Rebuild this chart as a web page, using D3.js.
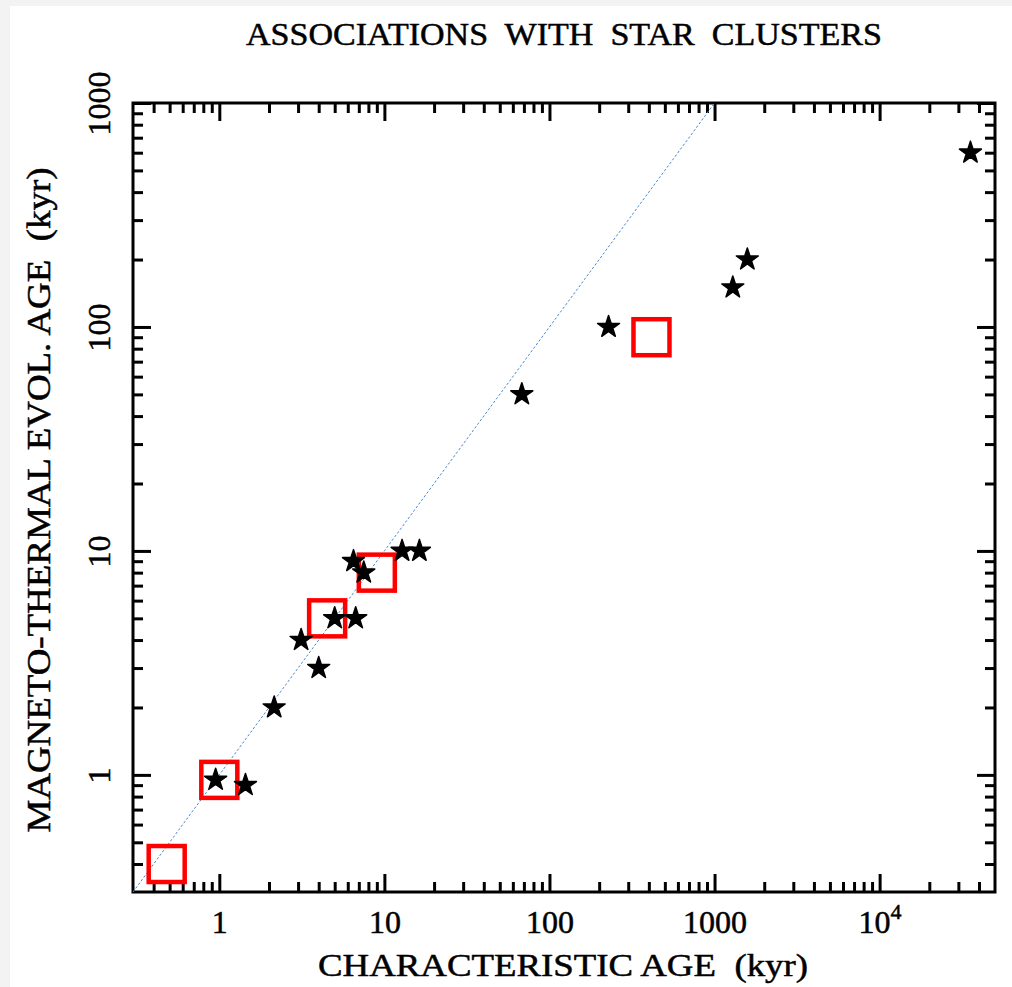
<!DOCTYPE html>
<html lang="en">
  <head>
    <meta charset="utf-8">
    <title>Associations with star clusters</title>
    <style>
      body{ margin:0; background:#fff; }
      text{ font-family:"Liberation Serif","Times New Roman",serif; fill:#000; stroke:#000; stroke-width:0.5; }
      .frame{ fill:none; stroke:#000; stroke-width:3; }
      .ax path{ display:none; }
      .ax line{ stroke:#000; stroke-width:3; }
    </style>
    <script src="https://cdn.jsdelivr.net/npm/d3@7"></script>
  </head>
  <body>
  <svg width="1012" height="987"></svg>
  <script>
// data (kyr)
var starX = [0.95, 1.44, 2.15, 3.13, 4.0, 5.0, 6.7, 6.5, 7.5, 12.8, 16.3, 68, 228, 1290, 1580, 35500];
var starY = [0.95, 0.90, 2.0, 4.0, 3.0, 5.0, 5.0, 9.0, 8.0, 10, 10, 50, 100, 150, 200, 600];
var boxX = [0.48, 1.0, 4.5, 9.0, 415];
var boxY = [0.40, 0.95, 5.0, 8.0, 90];
var lineX = [0.3, 1000];   // y = x reference line
var xTicks = [1, 10, 100, 1000, 10000];
var yTicks = [1, 10, 100, 1000];
var xTickLabels = ["1", "10", "100", "1000", "10"];
var yTickLabels = ["1", "10", "100", "1000"];
var xDomain = [0.3, 5e4];
var yDomain = [0.3, 1000];

var svg = d3.select("svg"),
    margin = {top: 103, right: 17, bottom: 95, left: 133},
    width = svg.attr("width") - margin.left - margin.right,
    height = svg.attr("height") - margin.top - margin.bottom;

// faint grey page edge
svg.append("rect").attr("x", 0).attr("y", 0).attr("width", 10).attr("height", 987).attr("fill", "#f3f3f3");
svg.append("rect").attr("x", 0).attr("y", 0).attr("width", 1012).attr("height", 6).attr("fill", "#f3f3f3");

var g = svg.append("g")
    .attr("transform", "translate(" + margin.left + "," + margin.top + ")");

var x = d3.scaleLog().domain(xDomain).range([0, width]);
var y = d3.scaleLog().domain(yDomain).range([height, 0]);

function minors(dom) {
  var out = [];
  for (var e = -1; e <= 5; e++) {
    for (var k = 2; k <= 9; k++) {
      var v = k * Math.pow(10, e);
      if (v > dom[0] * 1.0001 && v < dom[1] * 0.9999) out.push(v);
    }
  }
  return out;
}
var xMinor = minors(xDomain), yMinor = minors(yDomain);

// ticks on all four sides, pointing inward
g.append("g").attr("class", "ax").attr("transform", "translate(0," + height + ")")
  .call(d3.axisBottom(x).tickValues(xMinor).tickSize(-10).tickFormat(""));
g.append("g").attr("class", "ax").attr("transform", "translate(0," + height + ")")
  .call(d3.axisBottom(x).tickValues(xTicks).tickSize(-18)
    .tickFormat(function(d, i) { return xTickLabels[i]; }))
  .selectAll("text")
    .attr("y", 41).attr("dy", 0)
    .style("font-size", "32px")
    .each(function(d) {
      if (d === 10000) {
        d3.select(this).append("tspan").attr("dy", -14).style("font-size", "22px").text("4");
      }
    });
g.append("g").attr("class", "ax")
  .call(d3.axisTop(x).tickValues(xMinor).tickSize(-10).tickFormat(""));
g.append("g").attr("class", "ax")
  .call(d3.axisTop(x).tickValues(xTicks).tickSize(-18).tickFormat(""));

g.append("g").attr("class", "ax")
  .call(d3.axisLeft(y).tickValues(yMinor).tickSize(-10).tickFormat(""));
g.append("g").attr("class", "ax")
  .call(d3.axisLeft(y).tickValues(yTicks).tickSize(-18)
    .tickFormat(function(d, i) { return yTickLabels[i]; }))
  .selectAll("text")
    .attr("x", 0).attr("y", -23).attr("dy", 0)
    .attr("text-anchor", "middle")
    .attr("transform", "rotate(-90)")
    .style("font-size", "32px");
g.append("g").attr("class", "ax").attr("transform", "translate(" + width + ",0)")
  .call(d3.axisRight(y).tickValues(yMinor).tickSize(-10).tickFormat(""));
g.append("g").attr("class", "ax").attr("transform", "translate(" + width + ",0)")
  .call(d3.axisRight(y).tickValues(yTicks).tickSize(-18).tickFormat(""));

g.append("rect").attr("class", "frame")
  .attr("width", width).attr("height", height);

// y = x dashed line
g.append("path")
  .datum(lineX)
  .attr("fill", "none")
  .attr("stroke", "#4a88d0")
  .attr("stroke-width", 1)
  .attr("stroke-dasharray", "2.5,2")
  .attr("d", d3.line().x(function(d) { return x(d); }).y(function(d) { return y(d); }));

// red open squares
g.selectAll("rect.box")
  .data(boxX)
  .enter()
  .append("rect")
  .attr("class", "box")
  .attr("x", function(d) { return x(d) - 18; })
  .attr("y", function(d, i) { return y(boxY[i]) - 18; })
  .attr("width", 36)
  .attr("height", 36)
  .attr("fill", "none")
  .attr("stroke", "#ff0000")
  .attr("stroke-width", 4.5);

// black stars
var star = d3.symbol().type(d3.symbolStar).size(150);
g.selectAll("path.star")
  .data(starX)
  .enter()
  .append("path")
  .attr("class", "star")
  .attr("d", star)
  .attr("fill", "#000")
  .attr("stroke", "#000")
  .attr("stroke-width", 1.5)
  .attr("stroke-linejoin", "round")
  .attr("transform", function(d, i) {
    return "translate(" + x(d) + "," + y(starY[i]) + ")";
  });

// titles
svg.append("text")
  .attr("x", 564).attr("y", 45)
  .attr("text-anchor", "middle")
  .attr("textLength", 636).attr("lengthAdjust", "spacingAndGlyphs")
  .style("font-size", "32px").style("white-space", "pre")
  .text("ASSOCIATIONS  WITH  STAR  CLUSTERS");

svg.append("text")
  .attr("x", 563).attr("y", 976)
  .attr("text-anchor", "middle")
  .attr("textLength", 490).attr("lengthAdjust", "spacingAndGlyphs")
  .style("font-size", "32px").style("white-space", "pre")
  .text("CHARACTERISTIC AGE  (kyr)");

svg.append("text")
  .attr("transform", "translate(50,500) rotate(-90)")
  .attr("text-anchor", "middle")
  .attr("textLength", 665).attr("lengthAdjust", "spacingAndGlyphs")
  .style("font-size", "33px").style("white-space", "pre")
  .text("MAGNETO-THERMAL EVOL. AGE  (kyr)");
  </script>
  </body>
</html>
